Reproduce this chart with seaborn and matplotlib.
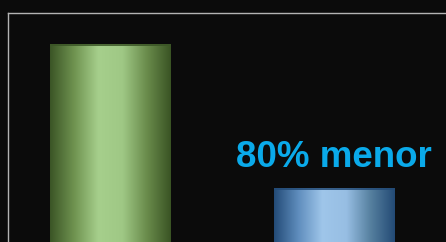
import numpy as np
import pandas as pd
import matplotlib
matplotlib.use("Agg")
import matplotlib.pyplot as plt
import seaborn as sns
from matplotlib.colors import LinearSegmentedColormap

# data (units: arbitrary, bars are cropped at the bottom)
categories = ["antes", "depois"]
values = [110, 30]
bar_colors = ["#7fa85f", "#5f8fc0"]
label_text = "80% menor"

# gradient ramps for the cylinder look: edge -> highlight -> edge
ramps = [
    ["#3b5526", "#6f9350", "#a6cf8c", "#9fc885", "#6a8c4c", "#3a5424"],
    ["#234b77", "#5f8dbd", "#9fc6ea", "#97bee3", "#56809f", "#234a75"],
]

bg = "#0b0b0b"

sns.set_theme(style="dark")
plt.rcParams["font.family"] = ["Liberation Sans", "DejaVu Sans"]

fig = plt.figure(figsize=(4.46, 2.42), dpi=100, facecolor=bg)
ax = fig.add_axes([8 / 446, 0, 1 - 8 / 446, (242 - 12.5) / 242])
ax.set_facecolor(bg)

df = pd.DataFrame({"cat": categories, "val": values})
sns.barplot(data=df, x="cat", y="val", hue="cat", palette=bar_colors,
            width=0.539, legend=False, ax=ax, edgecolor="none")

ax.set_xlim(-0.4586, 1.501)
ax.set_ylim(0, 127.5)

# cylinder gradient on each bar
for patch, ramp in zip(ax.patches, ramps):
    x0, y0 = patch.get_x(), patch.get_y()
    w, h = patch.get_width(), patch.get_height()
    cmap = LinearSegmentedColormap.from_list("cyl", ramp)
    grad = np.linspace(0, 1, 256).reshape(1, -1)
    im = ax.imshow(grad, cmap=cmap, aspect="auto",
                   extent=[x0, x0 + w, y0, y0 + h], zorder=3)
    im.set_clip_path(patch)
    # thin darker cap on top
    ax.plot([x0, x0 + w], [y0 + h - 0.3, y0 + h - 0.3],
            color=ramp[0], lw=1.2, zorder=4, solid_capstyle="butt")

ax.text(1, values[1] + 11.8, label_text, ha="center", va="baseline",
        fontsize=26.5, fontweight="bold", color="#0aaaea", zorder=5)

for s in ["right", "bottom"]:
    ax.spines[s].set_visible(False)
for s in ["top", "left"]:
    ax.spines[s].set_visible(True)
    ax.spines[s].set_color("#b4b4b4")
    ax.spines[s].set_linewidth(1.0)

ax.set_xticks([])
ax.set_yticks([])
ax.set_xlabel("")
ax.set_ylabel("")
ax.grid(False)

fig.savefig("out.png", dpi=100, facecolor=bg)
